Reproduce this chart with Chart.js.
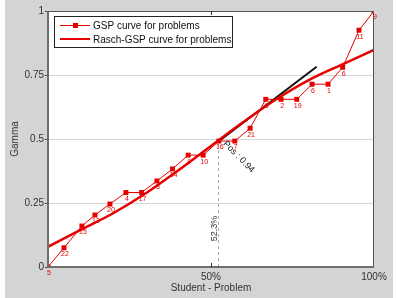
<!DOCTYPE html>
<html><head><meta charset="utf-8">
<script src="https://cdn.jsdelivr.net/npm/chart.js@4/dist/chart.umd.min.js"></script>
<style>html,body{margin:0;padding:0;background:#fff}#wrap{width:398px;height:298px;position:relative}</style>
</head><body><div id="wrap"><canvas id="c" width="398" height="298"></canvas></div>
<script>
// GSP curve for problems (x in %, gamma)
const gspX = [0, 4.9, 10.4, 14.4, 19.0, 23.9, 28.7, 33.4, 38.2, 43.0, 47.6, 52.4, 57.3, 62.0, 66.8, 71.5, 76.3, 81.0, 85.9, 90.4, 95.4, 100];
const gspY = [0, 0.075, 0.16, 0.203, 0.246, 0.291, 0.291, 0.336, 0.383, 0.437, 0.437, 0.492, 0.492, 0.542, 0.655, 0.655, 0.655, 0.714, 0.714, 0.78, 0.925, 1.0];
const gspLabels = ['5','22','15','12','20','4','17','3','14','9','10','16','7','21','8','2','19','6','1','6','11','9'];
// Rasch-GSP curve
const raschX = [0, 10, 20, 30, 40, 50, 60, 70, 80, 90, 100];
const raschY = [0.079, 0.145, 0.21, 0.288, 0.378, 0.473, 0.567, 0.655, 0.73, 0.79, 0.848];
// tangent line
const tanX = [52.3, 82.4];
const tanY = [0.49, 0.782];
// median marker
const medX = [52.3, 52.3];
const medY = [0, 0.49];
const yTicks = [0, 0.25, 0.5, 0.75, 1];
const xTicks = [0, 50, 100];
const xTickLabels = ['', '50%', '100%'];
const legendNames = ['GSP curve for problems', 'Rasch-GSP curve for problems'];
const medText = '52.3%';
const slopeText = 'Pos : 0.94';

const RED = '#e60000';
const FONT = "'Liberation Sans', Arial, sans-serif";
const pts = (xs, ys) => xs.map((x, i) => ({x: x, y: ys[i]}));

const decor = {
  id: 'decor',
  beforeDraw(chart) {
    const ctx = chart.ctx;
    ctx.save();
    ctx.fillStyle = '#ffffff';
    ctx.fillRect(0, 0, chart.width, chart.height);
    ctx.fillStyle = '#d4d4d4';
    ctx.fillRect(5, 0, 388, chart.height);
    const a = chart.chartArea;
    ctx.fillStyle = '#ffffff';
    ctx.fillRect(a.left, a.top, a.right - a.left, a.bottom - a.top);
    ctx.restore();
  },
  afterDatasetsDraw(chart) {
    const ctx = chart.ctx;
    const a = chart.chartArea;
    const xs = chart.scales.x, ys = chart.scales.y;
    ctx.save();
    // border
    ctx.strokeStyle = '#555';
    ctx.lineWidth = 1;
    ctx.strokeRect(a.left + 0.5, a.top + 0.5, a.right - a.left - 1, a.bottom - a.top - 1);
    ctx.strokeStyle = '#6e6e6e';
    ctx.lineWidth = 2;
    ctx.beginPath();
    ctx.moveTo(a.left, a.top); ctx.lineTo(a.left, a.bottom); ctx.lineTo(a.right, a.bottom);
    ctx.stroke();
    // inner ticks at 50%
    const x50 = Math.round(xs.getPixelForValue(50)) + 0.5;
    ctx.lineWidth = 1;
    ctx.strokeStyle = '#333';
    ctx.beginPath();
    ctx.moveTo(x50, a.bottom); ctx.lineTo(x50, a.bottom - 4);
    ctx.moveTo(x50, a.top); ctx.lineTo(x50, a.top + 4);
    ctx.stroke();
    // point labels
    const meta = chart.getDatasetMeta(0);
    ctx.fillStyle = RED;
    ctx.font = '7px ' + FONT;
    ctx.textAlign = 'center';
    ctx.textBaseline = 'top';
    meta.data.forEach((p, i) => {
      ctx.fillText(gspLabels[i], p.x + 1, p.y + 3);
    });
    // median text
    const mx = xs.getPixelForValue(medX[0]);
    ctx.fillStyle = '#333';
    ctx.font = '9px ' + FONT;
    ctx.save();
    ctx.translate(mx - 4, ys.getPixelForValue(0.15));
    ctx.rotate(-Math.PI / 2);
    ctx.textAlign = 'center';
    ctx.textBaseline = 'middle';
    ctx.fillText(medText, 0, 0);
    ctx.restore();
    // slope text
    ctx.save();
    ctx.translate(mx + 6, ys.getPixelForValue(tanY[0]) + 1);
    ctx.rotate(Math.PI / 4);
    ctx.textAlign = 'left';
    ctx.textBaseline = 'middle';
    ctx.fillStyle = '#222';
    ctx.fillText(slopeText, 0, 0);
    ctx.restore();
    // legend
    const lx = 54, ly = 16, lw = 178, lh = 31;
    ctx.fillStyle = '#fff';
    ctx.fillRect(lx, ly, lw, lh);
    ctx.strokeStyle = '#222';
    ctx.lineWidth = 1;
    ctx.strokeRect(lx + 0.5, ly + 0.5, lw, lh);
    ctx.font = '10px ' + FONT;
    ctx.textAlign = 'left';
    ctx.textBaseline = 'middle';
    const rows = [ly + 9, ly + 23];
    // row 1
    ctx.strokeStyle = RED; ctx.lineWidth = 1;
    ctx.beginPath(); ctx.moveTo(lx + 6, rows[0] + 0.5); ctx.lineTo(lx + 36, rows[0] + 0.5); ctx.stroke();
    ctx.fillStyle = RED; ctx.fillRect(lx + 19, rows[0] - 2, 5, 5);
    ctx.fillStyle = '#111'; ctx.fillText(legendNames[0], lx + 39, rows[0] + 1);
    // row 2
    ctx.strokeStyle = RED; ctx.lineWidth = 2;
    ctx.beginPath(); ctx.moveTo(lx + 6, rows[1]); ctx.lineTo(lx + 36, rows[1]); ctx.stroke();
    ctx.fillStyle = '#111'; ctx.fillText(legendNames[1], lx + 39, rows[1] + 1);
    ctx.restore();
  }
};

new Chart(document.getElementById('c'), {
  type: 'scatter',
  data: {
    datasets: [
      { label: legendNames[0], data: pts(gspX, gspY), showLine: true, borderColor: RED, backgroundColor: RED,
        borderWidth: 1, pointStyle: 'rect', pointRadius: 3.5, pointBorderWidth: 0, tension: 0 },
      { label: legendNames[1], data: pts(raschX, raschY), showLine: true, borderColor: RED, borderWidth: 2.5,
        pointRadius: 0, cubicInterpolationMode: 'monotone' },
      { label: 'tangent', data: pts(tanX, tanY), showLine: true, borderColor: '#111', borderWidth: 2, pointRadius: 0 },
      { label: 'median', data: pts(medX, medY), showLine: true, borderColor: '#aaa', borderWidth: 1, borderDash: [3, 3], pointRadius: 0 }
    ]
  },
  options: {
    responsive: false,
    animation: false,
    layout: { padding: { left: 0, top: 11, right: 24, bottom: 0 } },
    plugins: { legend: { display: false }, tooltip: { enabled: false } },
    scales: {
      x: {
        type: 'linear', min: 0, max: 100,
        afterBuildTicks: s => { s.ticks = xTicks.map(v => ({value: v})); },
        afterFit: s => { s.height = 31; },
        grid: { drawOnChartArea: false, drawTicks: false },
        border: { display: false },
        ticks: { padding: 4, color: '#333', font: { family: FONT, size: 10 }, maxRotation: 0,
          callback: (v) => { const i = xTicks.indexOf(v); return i >= 0 ? xTickLabels[i] : ''; } },
        title: { display: true, text: 'Student - Problem', color: '#333', font: { family: FONT, size: 10 }, padding: { top: 0, bottom: 4 } }
      },
      y: {
        type: 'linear', min: 0, max: 1,
        afterBuildTicks: s => { s.ticks = yTicks.map(v => ({value: v})); },
        afterFit: s => { s.width = 48; },
        grid: { color: c => (c.tick && (c.tick.value === 0 || c.tick.value === 1)) ? 'rgba(0,0,0,0)' : '#d6d6d6',
          tickColor: '#444', tickLength: 3 },
        border: { display: false },
        ticks: { padding: 1, color: '#333', font: { family: FONT, size: 10 }, callback: v => String(v) },
        title: { display: true, text: 'Gamma', color: '#333', font: { family: FONT, size: 10 }, padding: { top: 9, bottom: 0 } }
      }
    }
  },
  plugins: [decor]
});
</script>
</body></html>
